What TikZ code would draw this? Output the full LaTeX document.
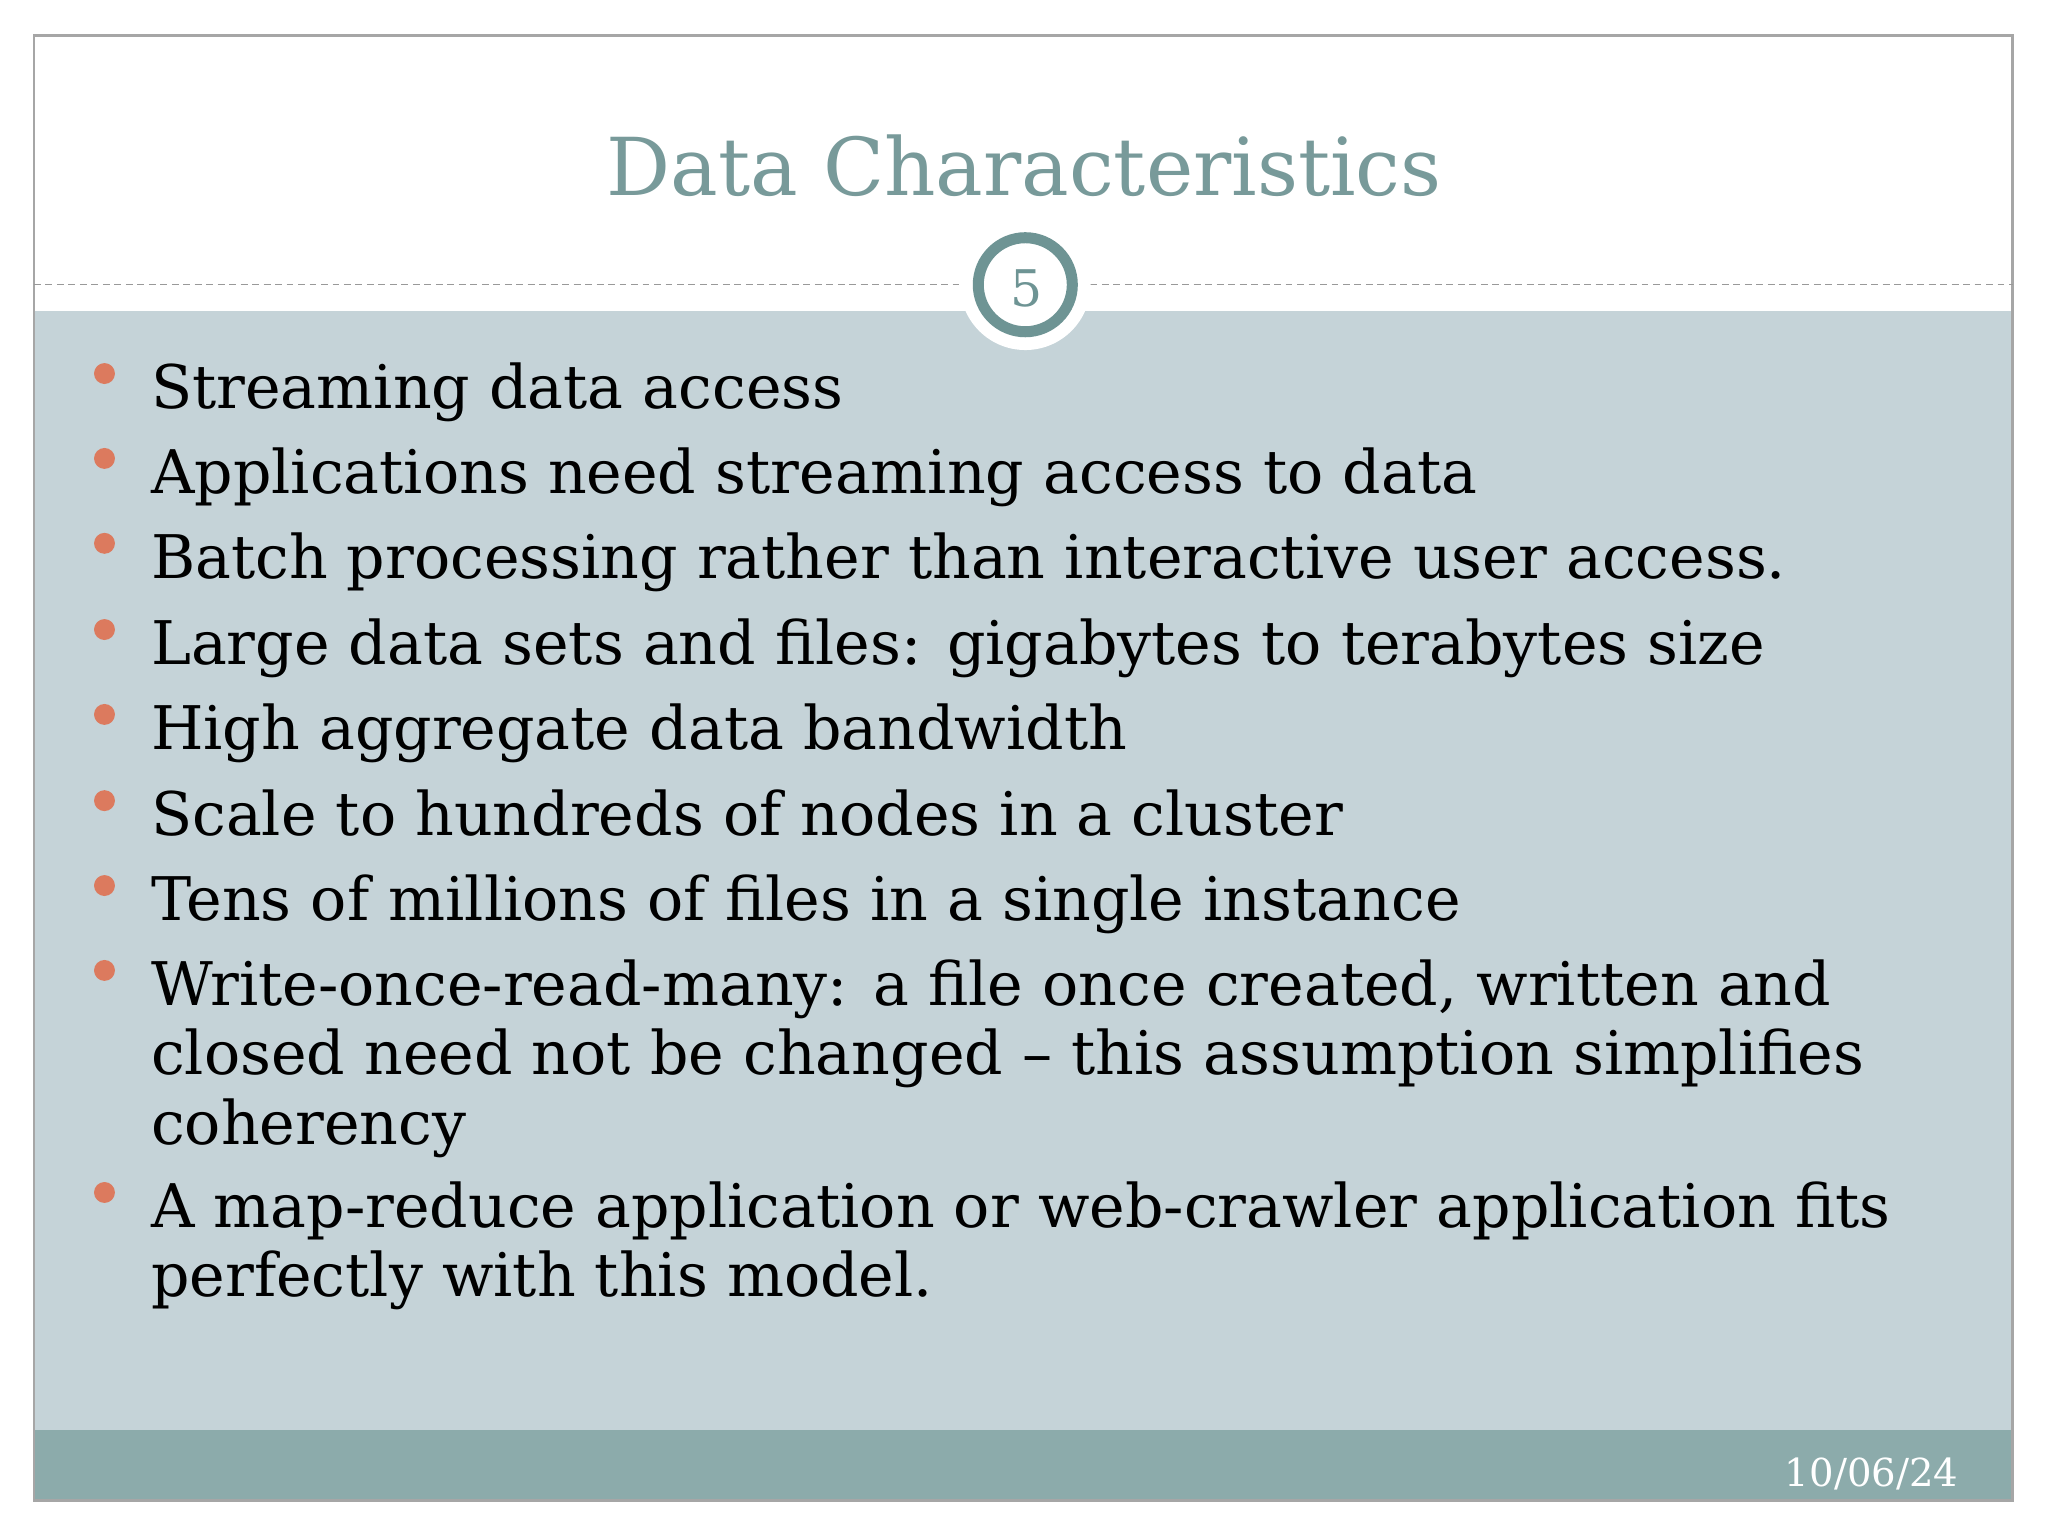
\documentclass[tikz,border=0pt]{standalone}
\usepackage{fontspec}
\setmainfont{DejaVu Serif}
\definecolor{bodybg}{HTML}{C5D3D8}
\definecolor{footbg}{HTML}{8CABAB}
\definecolor{titlec}{HTML}{789A9A}
\definecolor{ringc}{HTML}{6E9494}
\definecolor{bulc}{HTML}{DC7A5E}
\begin{document}
\begin{tikzpicture}[x=0.01cm,y=-0.01cm,
  item/.style={anchor=base west,inner sep=0,font=\fontsize{13.1}{16}\selectfont},
  dot/.style={circle,fill=bulc,inner sep=0,minimum size=0.16cm}]
\useasboundingbox (0,0) rectangle (1568,1176);
\fill[white] (0,0) rectangle (1568,1176);
\fill[bodybg] (26,238) rectangle (1541,1095);
\fill[footbg] (26,1095) rectangle (1541,1149);
\draw[gray!70,line width=0.6pt] (26,27) rectangle (1541,1149);
\draw[gray!80,dash pattern=on 1.5pt off 1pt,line width=0.3pt] (26,218) -- (1541,218);
\fill[white] (785,218) circle (50);
\draw[ringc,line width=2.4pt,fill=white] (785,218) circle (36);
\node[font=\fontsize{11}{13}\selectfont,text=ringc] (num) at (786,221) {5};
\node[anchor=base,font=\fontsize{17.4}{20}\selectfont,text=titlec] (title) at (784,150) {Data Characteristics};
\foreach \y/\t [count=\i] in {313/Streaming data access,
  378/Applications need streaming access to data,
  443/Batch processing rather than interactive user access.,
  509/Large data sets and files: gigabytes to terabytes size,
  574/High aggregate data bandwidth,
  640/Scale to hundreds of nodes in a cluster,
  705/Tens of millions of files in a single instance,
  770/{Write-once-read-many: a file once created, written and},
  940/A map-reduce application or web-crawler application fits}{
  \node[dot] (d\i) at (80,\y-27) {};
  \node[item] (t\i) at (115,\y) {\t};
}
\node[item] (t8b) at (115,823) {closed need not be changed – this assumption simplifies};
\node[item] (t8c) at (115,876) {coherency};
\node[item] (t9b) at (115,993) {perfectly with this model.};
\node[anchor=base east,inner sep=0,text=white,font=\fontsize{8.4}{10}\selectfont] (date) at (1500,1138) {10/06/24};
\end{tikzpicture}
\end{document}
